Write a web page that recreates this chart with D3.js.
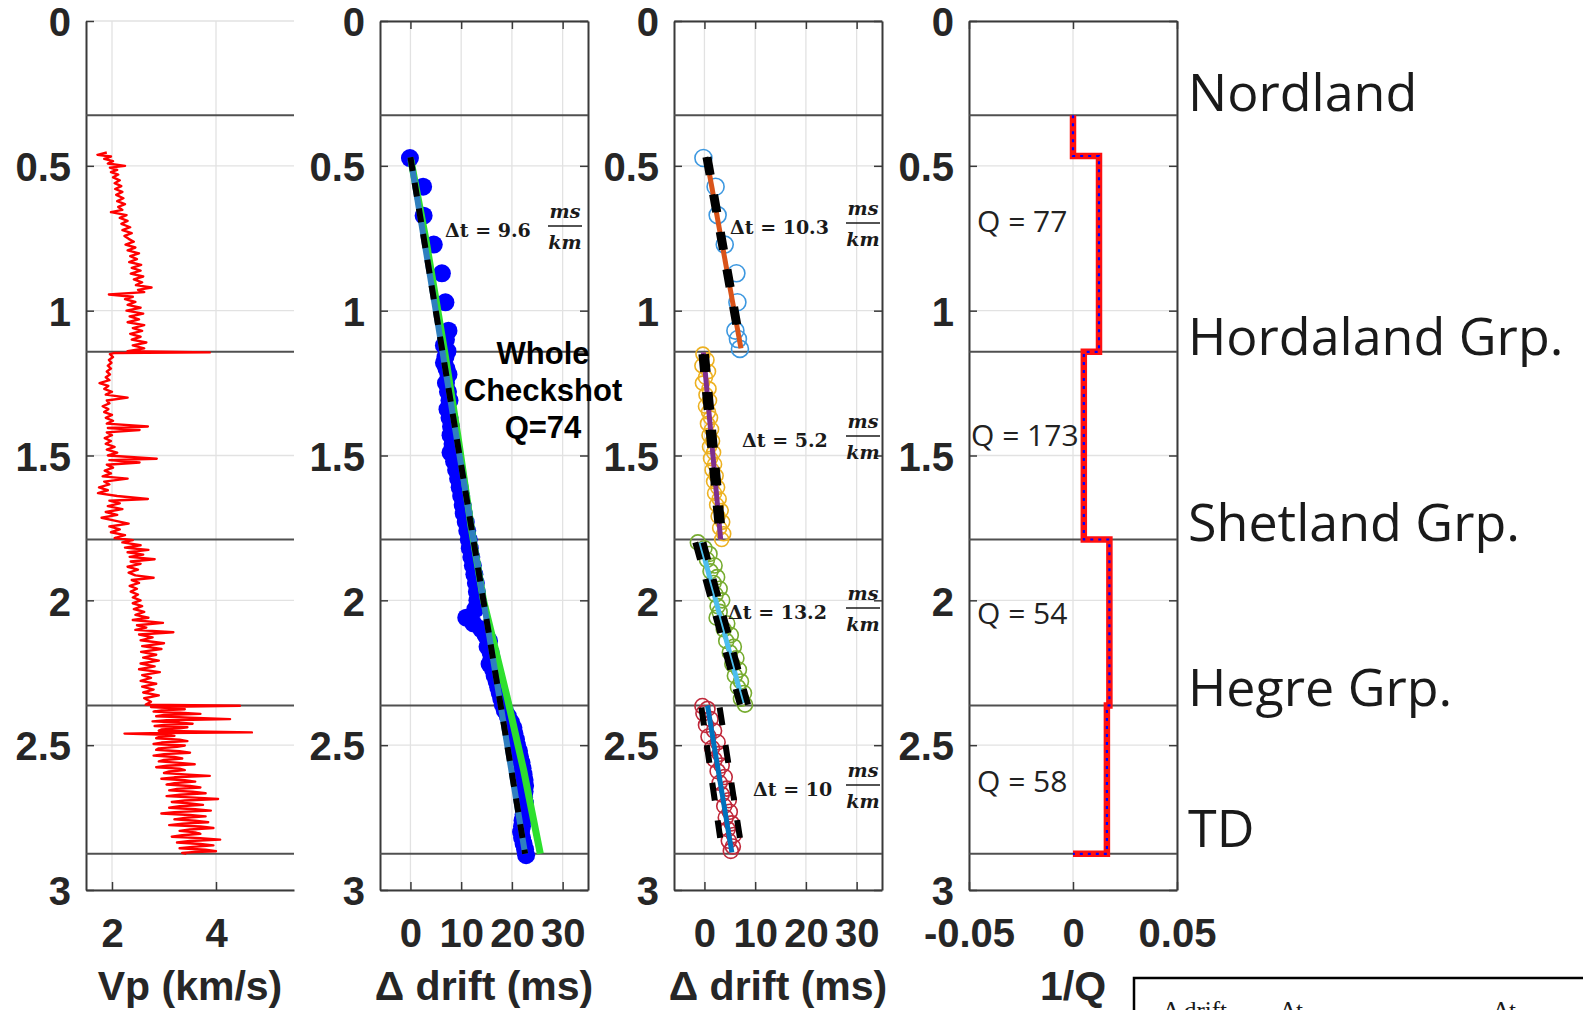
<!DOCTYPE html>
<html><head><meta charset="utf-8">
<script src="https://cdn.jsdelivr.net/npm/d3@7"></script>
<style>body{margin:0;background:#fff}svg{display:block;background:#fff}</style>
</head><body>
<svg id="chart" width="1583" height="1010"></svg>
<script>
// ---------------- DATA ----------------
const depthTicks = [0, 0.5, 1, 1.5, 2, 2.5, 3];
const vpTicks = [2, 4];
const driftTicks = [0, 10, 20, 30];
const qTicks = [-0.05, 0, 0.05];
const boundaries = [0.325, 1.142, 1.79, 2.363, 2.875];
const formationNames = ["Nordland", "Hordaland Grp.", "Shetland Grp.", "Hegre Grp.", "TD"];
const axisLabels = ["Vp (km/s)", "\u0394 drift (ms)", "\u0394 drift (ms)", "1/Q"];

// Vp log [depth (s), Vp (km/s)]
const vpLog = [
[0.454,1.90],[0.462,1.72],[0.468,1.98],[0.476,1.85],[0.484,2.02],[0.492,1.92],[0.500,2.25],[0.506,1.96],
[0.514,2.10],[0.522,1.98],[0.530,2.12],[0.540,2.02],[0.550,2.15],[0.560,2.05],[0.570,2.18],[0.580,2.06],
[0.590,2.20],[0.600,2.08],[0.612,2.22],[0.622,2.10],[0.632,2.25],[0.642,2.12],[0.652,2.20],[0.660,1.98],
[0.670,2.28],[0.680,2.15],[0.690,2.30],[0.700,2.18],[0.712,2.35],[0.722,2.20],[0.732,2.38],[0.742,2.24],
[0.752,2.32],[0.762,2.42],[0.772,2.26],[0.782,2.45],[0.792,2.30],[0.802,2.52],[0.812,2.35],[0.822,2.48],
[0.832,2.33],[0.842,2.56],[0.852,2.38],[0.862,2.55],[0.872,2.36],[0.882,2.60],[0.892,2.42],[0.902,2.58],
[0.912,2.46],[0.920,2.76],[0.928,2.50],[0.936,2.62],[0.944,1.94],[0.952,2.40],[0.960,2.25],[0.970,2.45],
[0.980,2.30],[0.990,2.55],[1.000,2.28],[1.010,2.60],[1.020,2.34],[1.030,2.52],[1.040,2.30],[1.050,2.62],
[1.060,2.40],[1.070,2.58],[1.080,2.35],[1.090,2.55],[1.100,2.38],[1.110,2.66],[1.120,2.40],[1.130,2.62],
[1.140,2.30],[1.144,3.88],[1.146,2.05],[1.150,1.96],
[1.160,2.02],[1.170,1.94],[1.180,1.99],[1.190,1.92],[1.200,1.98],[1.210,1.90],[1.220,1.96],[1.230,1.88],
[1.240,1.95],[1.250,1.76],[1.260,1.93],[1.270,1.85],[1.280,2.00],[1.290,1.88],[1.300,2.30],[1.310,1.90],
[1.320,1.95],[1.330,1.82],[1.340,1.93],[1.350,1.85],[1.360,2.00],[1.370,1.88],[1.380,2.02],[1.390,1.90],
[1.400,2.69],[1.405,1.92],[1.412,2.53],[1.420,1.90],[1.430,2.00],[1.440,1.86],[1.450,1.98],[1.460,1.88],
[1.470,2.05],[1.480,1.90],[1.490,2.10],[1.500,1.92],[1.511,2.86],[1.516,1.95],[1.524,2.53],[1.532,1.90],
[1.542,2.02],[1.552,1.86],[1.562,1.98],[1.572,1.82],[1.580,2.30],[1.590,1.85],[1.600,1.95],[1.610,1.75],
[1.620,1.92],[1.630,1.73],[1.640,2.10],[1.650,2.69],[1.656,1.95],[1.665,2.15],[1.675,1.92],[1.685,2.20],
[1.695,1.88],[1.705,2.10],[1.715,1.80],[1.725,2.05],[1.735,2.32],[1.745,1.95],[1.755,2.15],[1.765,1.98],
[1.775,2.25],[1.785,2.05],[1.792,2.40],
[1.800,2.20],[1.810,2.55],[1.818,2.25],[1.826,2.70],[1.834,2.30],[1.842,2.60],[1.850,2.34],[1.858,2.82],
[1.866,2.36],[1.874,2.55],[1.884,2.30],[1.894,2.50],[1.904,2.32],[1.914,2.45],[1.922,2.80],[1.930,2.38],
[1.940,2.52],[1.950,2.34],[1.960,2.48],[1.970,2.36],[1.980,2.50],[1.990,2.40],[2.000,2.55],[2.010,2.40],
[2.020,2.58],[2.030,2.42],[2.040,2.62],[2.050,2.45],[2.060,2.70],[2.068,2.40],[2.078,2.98],[2.086,2.48],
[2.094,2.66],[2.102,2.45],[2.110,3.18],[2.118,2.52],[2.128,2.78],[2.138,2.55],[2.148,3.00],[2.158,2.58],
[2.168,2.95],[2.178,2.56],[2.188,2.85],[2.198,2.60],[2.208,2.90],[2.218,2.55],[2.228,2.82],[2.238,2.52],
[2.248,2.92],[2.258,2.58],[2.268,2.75],[2.278,2.55],[2.288,2.85],[2.298,2.58],[2.308,2.80],[2.318,2.60],
[2.328,2.90],[2.338,2.62],[2.350,2.75],[2.360,2.65],[2.364,4.46],
[2.368,2.75],[2.372,3.10],[2.376,3.40],[2.380,2.95],[2.384,2.80],[2.388,3.30],[2.392,3.70],[2.396,3.00],
[2.400,2.85],[2.405,3.50],[2.410,4.27],[2.414,3.05],[2.418,2.78],[2.422,3.30],[2.426,3.55],[2.430,3.00],
[2.434,2.82],[2.438,3.45],[2.442,3.30],[2.446,2.95],[2.450,2.90],[2.453,3.60],[2.456,4.69],[2.458,3.00],
[2.460,2.24],[2.464,3.05],[2.468,3.20],[2.472,2.90],[2.476,2.85],[2.481,3.30],[2.486,3.45],[2.491,2.95],
[2.496,2.80],[2.501,3.40],[2.506,3.25],[2.511,2.90],[2.516,2.85],[2.521,3.30],[2.526,3.50],[2.531,3.00],
[2.536,2.80],[2.541,3.20],[2.546,3.35],[2.551,3.00],[2.556,2.90],[2.561,3.30],[2.566,3.59],[2.571,3.05],
[2.576,2.85],[2.581,3.30],[2.586,3.40],[2.591,3.10],[2.596,3.00],[2.601,3.40],[2.606,3.88],[2.611,3.20],
[2.616,2.95],[2.621,3.40],[2.626,3.60],[2.631,3.20],[2.636,3.05],[2.641,3.50],[2.646,3.70],[2.651,3.25],
[2.656,3.10],[2.661,3.55],[2.666,3.80],[2.671,3.30],[2.676,3.05],[2.681,3.60],[2.686,4.04],[2.691,3.40],
[2.696,3.15],[2.701,3.50],[2.706,3.75],[2.711,3.30],[2.716,3.10],[2.721,3.60],[2.726,3.90],[2.731,3.20],
[2.736,2.95],[2.741,3.50],[2.746,3.80],[2.751,3.40],[2.756,3.20],[2.761,3.60],[2.766,3.85],[2.771,3.35],
[2.776,3.10],[2.781,3.70],[2.786,3.95],[2.791,3.50],[2.796,3.30],[2.801,3.60],[2.806,3.70],[2.811,3.35],
[2.816,3.15],[2.821,3.70],[2.826,4.08],[2.831,3.50],[2.836,3.25],[2.841,3.70],[2.846,3.95],[2.851,3.55],
[2.856,3.30],[2.861,3.80],[2.866,4.00],[2.869,3.60],[2.872,3.35],[2.875,3.43]
];

// Whole checkshot drift [depth, drift ms]
const checkshotDrift = [
[0.473,-0.1],[0.572,2.5],[0.672,2.6],[0.772,4.6],[0.871,6.2],[0.971,6.9],[1.069,7.5],
[1.10,7.0],[1.12,6.6],[1.14,7.3],[1.16,6.9],[1.18,6.6],[1.20,7.1],[1.22,7.5],[1.25,7.0],[1.28,7.4],
[1.31,7.7],[1.34,7.3],[1.37,7.7],[1.40,8.0],[1.43,7.9],[1.46,8.3],[1.49,7.9],[1.52,8.6],[1.55,9.0],
[1.58,9.4],[1.61,9.7],[1.64,10.0],[1.67,10.3],[1.70,10.5],[1.73,10.9],[1.76,11.2],[1.79,11.5],[1.82,11.7],
[1.85,12.0],[1.88,12.3],[1.91,12.6],[1.94,12.9],[1.97,13.1],[2.00,13.2],[2.03,12.8],[2.06,11.0],
[2.08,12.4],[2.10,14.0],[2.12,14.8],[2.14,15.5],[2.16,15.2],[2.18,15.8],[2.20,16.0],[2.22,15.6],
[2.24,16.3],[2.26,16.6],[2.28,17.0],[2.30,17.3],[2.32,17.6],[2.34,17.9],[2.36,18.2],[2.38,18.6],
[2.40,19.2],[2.42,19.8],[2.44,20.3],[2.46,20.5],[2.48,20.8],[2.50,21.0],[2.52,21.4],[2.54,21.6],
[2.56,21.9],[2.58,22.1],[2.60,22.3],[2.62,22.5],[2.64,22.6],[2.66,22.5],[2.68,22.4],[2.70,22.6],
[2.72,22.5],[2.74,22.3],[2.76,22.1],[2.78,22.0],[2.80,21.8],[2.82,22.0],[2.84,22.3],[2.86,22.6],[2.88,22.8]
];
const wholeFitQ = [[0.48,0.1],[0.75,3.0],[1.0,5.4],[1.19,7.2],[1.45,9.5],[1.75,12.0],[2.0,14.4],[2.33,19.0],[2.585,22.3],[2.875,25.6]];
const wholeFitDt = [[0.47,0.0],[2.875,22.6]];

// Interval drift points per formation
const nordlandPts = [[0.473,-0.2],[0.572,2.2],[0.670,2.6],[0.772,4.0],[0.871,6.3],[0.971,6.5],[1.069,6.1],[1.098,6.6],[1.132,7.0]];
const hordalandPts = [[1.15,-0.3],[1.17,0.5],[1.19,-0.5],[1.21,0.8],[1.23,0.2],[1.25,-0.4],[1.27,0.9],[1.29,0.3],[1.31,1.0],[1.33,0.2],[1.35,0.8],[1.37,1.2],[1.39,0.6],[1.41,1.4],[1.43,0.9],[1.45,1.6],[1.47,1.0],[1.49,1.8],[1.51,1.2],[1.53,2.0],[1.55,1.5],[1.57,2.3],[1.59,1.8],[1.61,2.6],[1.63,2.0],[1.65,2.9],[1.67,2.4],[1.69,3.3],[1.71,2.7],[1.73,3.6],[1.75,3.0],[1.77,3.8],[1.79,3.4]];
const shetlandPts = [[1.80,-1.3],[1.82,0.0],[1.84,1.0],[1.86,0.5],[1.88,2.0],[1.90,1.2],[1.92,2.5],[1.94,1.8],[1.96,3.0],[1.98,2.2],[2.00,3.5],[2.02,2.6],[2.04,3.0],[2.06,2.4],[2.08,4.5],[2.10,3.8],[2.12,5.2],[2.14,4.3],[2.16,5.8],[2.18,5.0],[2.20,6.3],[2.22,5.5],[2.24,6.8],[2.26,6.0],[2.28,7.2],[2.30,6.6],[2.32,7.8],[2.34,7.2],[2.36,8.0]];
const hegrePts = [[2.365,-0.4],[2.375,0.6],[2.39,-0.2],[2.41,1.2],[2.43,0.3],[2.45,1.9],[2.47,0.8],[2.49,2.6],[2.51,1.5],[2.53,3.0],[2.55,2.0],[2.57,3.4],[2.59,2.6],[2.61,4.0],[2.63,3.0],[2.65,4.4],[2.67,3.4],[2.69,4.8],[2.71,3.9],[2.73,5.0],[2.75,4.2],[2.77,5.4],[2.79,4.6],[2.81,5.8],[2.83,4.8],[2.85,5.6],[2.865,5.2]];
const nordlandFit = [[0.49,0.6],[1.13,7.2]];
const hordalandFit = [[1.144,-0.2],[1.79,3.2]];
const shetlandFit = [[1.80,-0.8],[2.355,7.6]];
const hegreFit = [[2.363,0.6],[2.87,5.4]];
const nordlandBounds = [[[0.47,0.2],[1.10,6.6]],[[0.47,0.8],[1.10,7.2]]];
const hordalandBounds = [[[1.15,-0.6],[1.78,2.8]],[[1.15,0.3],[1.78,3.7]]];
const shetlandBounds = [[[1.80,-1.8],[2.36,7.0]],[[1.80,-0.2],[2.36,8.6]]];
const hegreBounds = [[[2.37,-0.6],[2.82,3.1]],[[2.37,3.0],[2.82,7.0]]];
const intervalDt = ["10.3", "5.2", "13.2", "10"];
const wholeDt = "9.6";

// 1/Q step profile [depth, 1/Q]
const invQ = [[0.325,0],[0.466,0],[0.466,0.0125],[1.142,0.0125],[1.142,0.0052],[1.79,0.0052],[1.79,0.0175],[2.363,0.0175],[2.363,0.0163],[2.875,0.0163],[2.875,0]];
const qValues = [77, 173, 54, 58];

// ---------------- DRAW ----------------
const svg = d3.select("#chart");
const Y = d3.scaleLinear().domain([0, 3]).range([21, 890]);
const W = 208;
const SANS = "'Liberation Sans', Arial, Helvetica, sans-serif";
const SERIF = "'DejaVu Serif', 'Liberation Serif', serif";
const panels = [
  {left: 86, dom: [1.5, 5.5], ticks: vpTicks, box: false},
  {left: 380, dom: [-6, 35], ticks: driftTicks, box: true},
  {left: 674, dom: [-6, 35], ticks: driftTicks, box: true},
  {left: 969, dom: [-0.05, 0.05], ticks: qTicks, box: true}
];
const scales = [];

panels.forEach((p, i) => {
  const x = d3.scaleLinear().domain(p.dom).range([p.left, p.left + W]);
  scales.push(x);
  const g = svg.append("g");
  g.selectAll(".gv").data(p.ticks).join("line")
    .attr("x1", d => x(d)).attr("x2", d => x(d)).attr("y1", Y(0)).attr("y2", Y(3))
    .attr("stroke", "#e2e2e2").attr("stroke-width", 1.3);
  g.selectAll(".gh").data(depthTicks).join("line")
    .attr("x1", p.left).attr("x2", p.left + W).attr("y1", d => Y(d)).attr("y2", d => Y(d))
    .attr("stroke", "#e2e2e2").attr("stroke-width", 1.3);
  const styleAxis = sel => {
    sel.select(".domain").attr("stroke", "#3a3a3a").attr("stroke-width", 2);
    sel.selectAll(".tick line").attr("stroke", "#3a3a3a").attr("stroke-width", 1.5);
    sel.selectAll(".tick text").attr("fill", "#262626")
      .style("font-family", SANS).style("font-weight", "bold").style("font-size", "40px");
  };
  g.append("g").attr("transform", `translate(${p.left},0)`)
    .call(d3.axisLeft(Y).tickValues(depthTicks).tickSizeInner(-8).tickSizeOuter(0).tickPadding(15).tickFormat(d => String(d)))
    .call(styleAxis).selectAll(".tick text").attr("dy", "0.37em");
  g.append("g").attr("transform", `translate(0,${Y(3)})`)
    .call(d3.axisBottom(x).tickValues(p.ticks).tickSizeInner(-8).tickSizeOuter(0).tickPadding(29).tickFormat(d => String(d)))
    .call(styleAxis);
  if (p.box) {
    g.append("g").attr("transform", `translate(0,${Y(0)})`)
      .call(d3.axisTop(x).tickValues(p.ticks).tickSizeInner(-8).tickSizeOuter(0).tickFormat(""))
      .call(styleAxis);
    g.append("g").attr("transform", `translate(${p.left + W},0)`)
      .call(d3.axisRight(Y).tickValues(depthTicks).tickSizeInner(-8).tickSizeOuter(0).tickFormat(""))
      .call(styleAxis);
  }
  g.selectAll(".fb").data(boundaries).join("line")
    .attr("x1", p.left).attr("x2", p.left + W).attr("y1", d => Y(d)).attr("y2", d => Y(d))
    .attr("stroke", "#505050").attr("stroke-width", 2);
  svg.append("text").attr("x", p.left + W / 2).attr("y", 1000)
    .attr("text-anchor", "middle").attr("fill", "#262626")
    .style("font-family", SANS).style("font-weight", "bold").style("font-size", "41px")
    .text(axisLabels[i]);
});

const lineGen = x => d3.line().x(d => x(d[1])).y(d => Y(d[0]));

// Panel 1: Vp
svg.append("path").datum(vpLog).attr("d", lineGen(scales[0]))
  .attr("fill", "none").attr("stroke", "#ff0000").attr("stroke-width", 2.4).attr("stroke-linejoin", "round");

// Panel 2: whole checkshot
const x2 = scales[1];
svg.append("g").selectAll("circle").data(checkshotDrift).join("circle")
  .attr("cx", d => x2(d[1])).attr("cy", d => Y(d[0])).attr("r", 9).attr("fill", "#0000ff");
svg.append("path").datum(wholeFitQ).attr("d", lineGen(x2))
  .attr("fill", "none").attr("stroke", "#2ee02e").attr("stroke-width", 7).attr("stroke-linejoin", "round");
svg.append("path").datum(wholeFitDt).attr("d", lineGen(x2))
  .attr("fill", "none").attr("stroke", "#2f7fbf").attr("stroke-width", 6);
svg.append("path").datum(wholeFitDt).attr("d", lineGen(x2))
  .attr("fill", "none").attr("stroke", "#000").attr("stroke-width", 6).attr("stroke-dasharray", "14,12");

// Panel 3: interval fits
const x3 = scales[2];
const segs = [
  {pts: nordlandPts, fit: nordlandFit, bounds: nordlandBounds, pc: "#3d98e0", lc: "#D95319", r: 8.5},
  {pts: hordalandPts, fit: hordalandFit, bounds: hordalandBounds, pc: "#EDB120", lc: "#7E2F8E", r: 7},
  {pts: shetlandPts, fit: shetlandFit, bounds: shetlandBounds, pc: "#77AC30", lc: "#4DBEEE", r: 7.5},
  {pts: hegrePts, fit: hegreFit, bounds: hegreBounds, pc: "#C0283A", lc: "#0072BD", r: 7.5}
];
segs.forEach(s => {
  const g = svg.append("g");
  g.selectAll("circle").data(s.pts).join("circle")
    .attr("cx", d => x3(d[1])).attr("cy", d => Y(d[0])).attr("r", s.r)
    .attr("fill", "none").attr("stroke", s.pc).attr("stroke-width", 1.6);
  g.append("path").datum(s.fit).attr("d", lineGen(x3))
    .attr("fill", "none").attr("stroke", s.lc).attr("stroke-width", 5);
  s.bounds.forEach(b => {
    g.append("path").datum(b).attr("d", lineGen(x3))
      .attr("fill", "none").attr("stroke", "#000").attr("stroke-width", 6).attr("stroke-dasharray", "18,20");
  });
});

// Panel 4: 1/Q
const x4 = scales[3];
svg.append("path").datum(invQ).attr("d", lineGen(x4))
  .attr("fill", "none").attr("stroke", "#ff1010").attr("stroke-width", 6.5);
svg.append("path").datum(invQ).attr("d", lineGen(x4))
  .attr("fill", "none").attr("stroke", "#0000ff").attr("stroke-width", 2.2).attr("stroke-dasharray", "3,5");

// Δt annotations
function dtLabel(xStart, yc, val, fx) {
  const g = svg.append("g").attr("fill", "#1a1a1a").style("font-family", SERIF).style("font-weight", "bold");
  g.append("text").attr("x", xStart).attr("y", yc + 7).style("font-size", "19px")
    .text("\u0394t = " + val);
  g.append("text").attr("x", fx).attr("y", yc - 12).attr("text-anchor", "middle")
    .style("font-size", "19px").style("font-style", "italic").text("ms");
  g.append("line").attr("x1", fx - 17).attr("x2", fx + 17).attr("y1", yc - 4).attr("y2", yc - 4)
    .attr("stroke", "#1a1a1a").attr("stroke-width", 1.3);
  g.append("text").attr("x", fx).attr("y", yc + 19).attr("text-anchor", "middle")
    .style("font-size", "19px").style("font-style", "italic").text("km");
}
dtLabel(445, 230, wholeDt, 565);
const dtPos = [[730, 227], [742, 440], [728, 612], [753, 789]];
intervalDt.forEach((v, i) => dtLabel(dtPos[i][0], dtPos[i][1], v, 863));

// Whole checkshot label
["Whole", "Checkshot", "Q=74"].forEach((t, i) => {
  svg.append("text").attr("x", 543).attr("y", 364 + i * 37).attr("text-anchor", "middle")
    .attr("fill", "#000").style("font-family", SANS).style("font-weight", "bold").style("font-size", "31px")
    .text(t);
});

// Q labels
const qPos = [[977, 232], [971, 446], [977, 624], [977, 792]];
qValues.forEach((q, i) => {
  svg.append("text").attr("x", qPos[i][0]).attr("y", qPos[i][1]).attr("fill", "#222")
    .style("font-family", "'Open Sans', 'Noto Sans', sans-serif").style("font-size", "30px")
    .text("Q = " + q);
});

// Formation names
const nameDy = [-4, 3, 1, 1, -7];
formationNames.forEach((n, i) => {
  svg.append("text").attr("x", 1188).attr("y", Y(boundaries[i]) + nameDy[i]).attr("fill", "#1a1a1a")
    .style("font-family", "'Open Sans', 'Noto Sans', sans-serif").style("font-size", "52px")
    .text(n);
});

// Legend box (cut at figure bottom, as in the reference)
svg.append("rect").attr("x", 1134).attr("y", 978).attr("width", 520).attr("height", 120)
  .attr("fill", "#fff").attr("stroke", "#000").attr("stroke-width", 2.5);
const legendItems = [["\u0394 drift", 1163], ["\u0394t", 1280], ["\u0394t", 1493]];
legendItems.forEach(([t, lx]) => {
  svg.append("text").attr("x", lx).attr("y", 1019).attr("fill", "#1a1a1a")
    .style("font-family", "'Liberation Serif', serif").style("font-size", "25px").text(t);
});
</script>
</body></html>
